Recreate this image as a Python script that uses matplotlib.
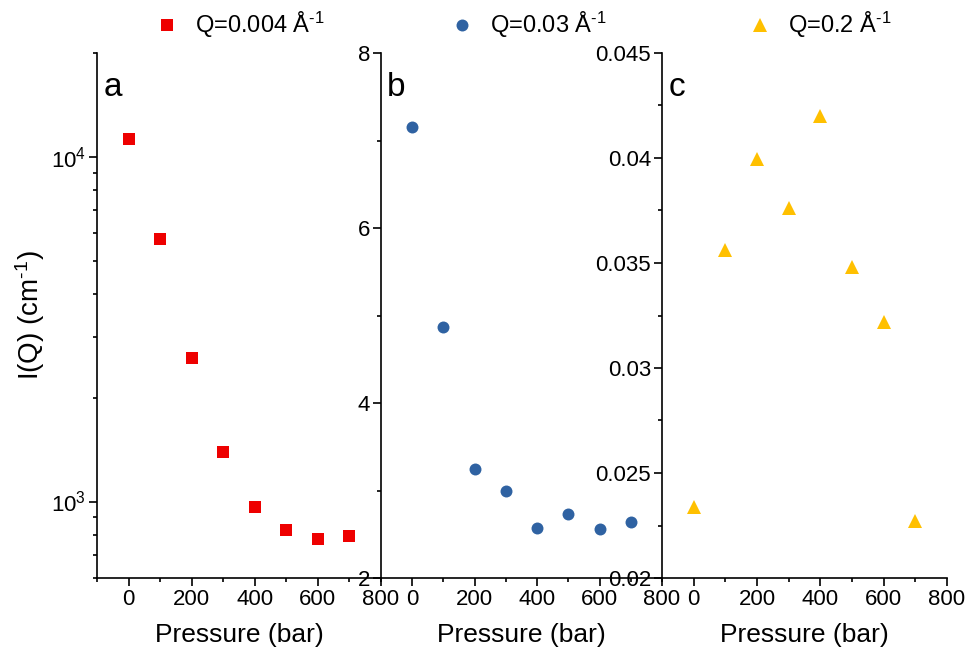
import matplotlib
matplotlib.use("Agg")
import matplotlib.pyplot as plt
from matplotlib.ticker import MultipleLocator, LogLocator, NullFormatter

plt.rcParams['font.family'] = ['Liberation Sans', 'DejaVu Sans']
plt.rcParams['mathtext.fontset'] = 'custom'
plt.rcParams['mathtext.rm'] = 'Liberation Sans'
plt.rcParams['mathtext.it'] = 'Liberation Sans:italic'
plt.rcParams['mathtext.bf'] = 'Liberation Sans:bold'

# Pressure steps (bar)
pressure = [0, 100, 200, 300, 400, 500, 600, 700]

# Scattered intensity I(Q) at three Q values
iq_q0004 = [11270, 5780, 2610, 1390, 964, 827, 778, 794]
iq_q003 = [7.15, 4.87, 3.25, 2.99, 2.57, 2.735, 2.56, 2.635]
iq_q02 = [0.0234, 0.0356, 0.03995, 0.0376, 0.0420, 0.0348, 0.0322, 0.0227]

inv_angstrom = r'Å$^{\mathrm{‐}1}$'
labels = ['Q=0.004 ' + inv_angstrom, 'Q=0.03 ' + inv_angstrom, 'Q=0.2 ' + inv_angstrom]
panel_letters = ['a', 'b', 'c']
colors = ['#EE0000', '#2F62A2', '#FFC000']
markers = ['s', 'o', '^']
msizes = [8.2, 8.6, 10.5]

W, H = 968, 662
fig = plt.figure(figsize=(W / 100, H / 100), dpi=100)

top, bottom = 53, 578
lefts = [97, 381, 662]
rights = [381, 662, 947]

axes = []
for l, r in zip(lefts, rights):
    ax = fig.add_axes([l / W, 1 - bottom / H, (r - l) / W, (bottom - top) / H])
    axes.append(ax)

series = [iq_q0004, iq_q003, iq_q02]
handles = []
for ax, ys, c, m, ms, lab in zip(axes, series, colors, markers, msizes, labels):
    h, = ax.plot(pressure, ys, linestyle='none', marker=m, color=c,
                 markersize=ms, markeredgewidth=0, label=lab, clip_on=False)
    handles.append(h)

# Panel a: logarithmic intensity
axes[0].set_yscale('log')
axes[0].set_ylim(600, 20000)
axes[0].yaxis.set_major_locator(LogLocator(base=10, numticks=10))
axes[0].yaxis.set_minor_locator(LogLocator(base=10, subs=range(2, 10), numticks=10))
axes[0].yaxis.set_minor_formatter(NullFormatter())

axes[1].set_ylim(2, 8)
axes[1].yaxis.set_major_locator(MultipleLocator(2))
axes[1].yaxis.set_minor_locator(MultipleLocator(1))

axes[2].set_ylim(0.02, 0.045)
axes[2].yaxis.set_major_locator(MultipleLocator(0.005))
axes[2].yaxis.set_minor_locator(MultipleLocator(0.0025))
axes[2].yaxis.set_major_formatter(plt.FuncFormatter(lambda v, p: f'{v:.3f}'.rstrip('0')))

for ax, letter in zip(axes, panel_letters):
    ax.set_xlim(-100, 800)
    ax.xaxis.set_major_locator(MultipleLocator(200))
    ax.xaxis.set_minor_locator(MultipleLocator(100))
    for side in ('top', 'right'):
        ax.spines[side].set_visible(False)
    for side in ('left', 'bottom'):
        ax.spines[side].set_linewidth(1.2)
    ax.tick_params(which='major', direction='out', length=6, width=1.2,
                   labelsize=16, pad=2)
    ax.tick_params(which='minor', direction='out', length=3.2, width=1.2)
    ax.set_xlabel('Pressure (bar)', fontsize=19)
    ax.xaxis.set_label_coords(0.5, -0.085)
    ax.text(0.022, 0.935, letter, transform=ax.transAxes, fontsize=24,
            ha='left', va='center')
    ax.patch.set_alpha(0)

axes[0].set_ylabel(r'I(Q) (cm$^{\mathrm{‐}1}$)', fontsize=20)
axes[0].yaxis.set_label_coords(-0.175, 0.5)

# Legend entries across the top
marker_x = [167, 462, 760]
for h, mx in zip(handles, marker_x):
    fig.legend(handles=[h], loc='center left',
               bbox_to_anchor=((mx - 11.8) / W, 1 - 25 / H),
               frameon=False, fontsize=17, handlelength=1.0,
               handletextpad=0.68, borderpad=0, borderaxespad=0)

fig.savefig('out.png', dpi=100)
